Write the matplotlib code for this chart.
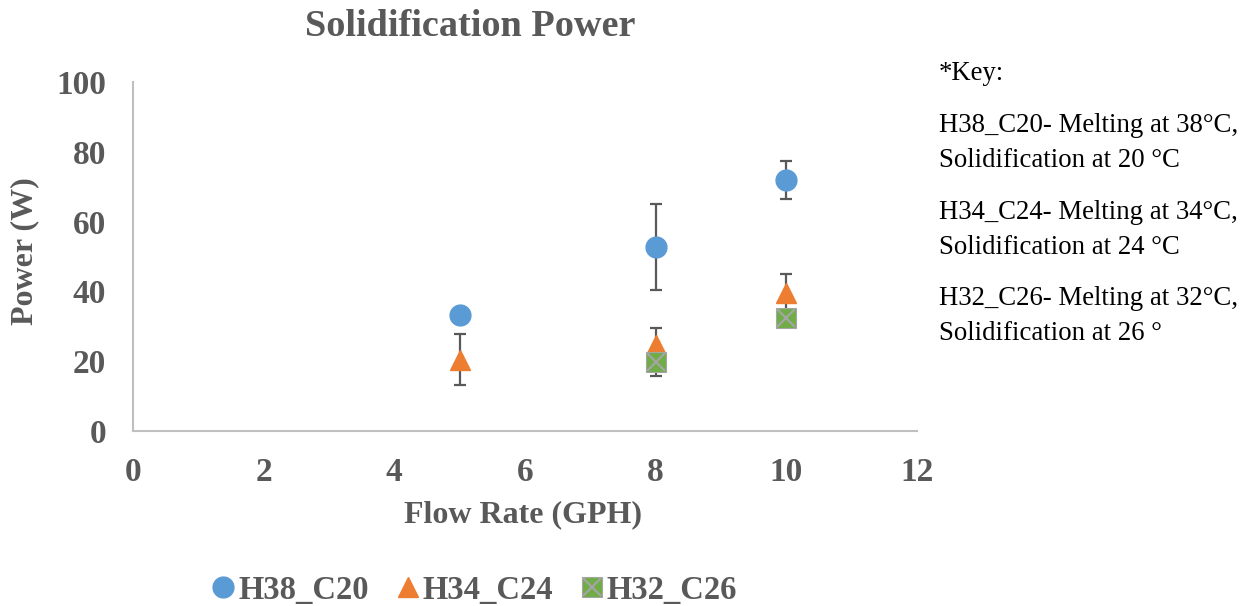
import numpy as np
import matplotlib
matplotlib.use("Agg")
from matplotlib import pyplot as plt
from matplotlib.legend_handler import HandlerTuple

# Data
flow_h38 = [5, 8, 10]
power_h38 = [33.2, 52.7, 71.9]
err_h38 = [0.0, 12.3, 5.5]

flow_h34 = [5, 8, 10]
power_h34 = [20.4, 24.5, 39.5]
err_h34 = [7.3, 5.0, 5.5]

flow_h32 = [8, 10]
power_h32 = [19.7, 32.3]
err_h32 = [3.9, 0.0]

key_lines = ["*Key:",
             "H38_C20- Melting at 38°C,\nSolidification at 20 °C",
             "H34_C24- Melting at 34°C,\nSolidification at 24 °C",
             "H32_C26- Melting at 32°C,\nSolidification at 26 °"]

plt.rcParams['font.family'] = ['Liberation Serif', 'DejaVu Serif']
grey = '#595959'

fig = plt.figure(figsize=(12.48, 6.06), dpi=100)
ax = fig.add_axes([0.1066, 0.2888, 0.628, 0.5759])

ekw = dict(fmt='none', ecolor=grey, elinewidth=1.6, capsize=4.3, capthick=1.6, zorder=2)
ax.errorbar(flow_h38, power_h38, yerr=err_h38, **ekw)
ax.errorbar(flow_h34, power_h34, yerr=err_h34, **ekw)
ax.errorbar(flow_h32, power_h32, yerr=err_h32, **ekw)

h1, = ax.plot(flow_h38, power_h38, 'o', ms=15, color='#5B9BD5', mec='#5B9BD5', zorder=3)
h2, = ax.plot(flow_h34, power_h34, '^', ms=15, color='#ED7D31', mec='#ED7D31', zorder=3)
h3a, = ax.plot(flow_h32, power_h32, 's', ms=14, color='#70AD47', mec='#A5A5A5', mew=0.8, zorder=3)
h3b, = ax.plot(flow_h32, power_h32, 'x', ms=13, color='#A5A5A5', mew=1.6, zorder=4)

ax.set_xlim(0, 12)
ax.set_ylim(0, 100)
ax.set_xticks(np.arange(0, 13, 2))
ax.set_yticks(np.arange(0, 101, 20))
for s in ['top', 'right']:
    ax.spines[s].set_visible(False)
for s in ['left', 'bottom']:
    ax.spines[s].set_color('#BFBFBF')
    ax.spines[s].set_linewidth(1.5)
ax.tick_params(length=0, labelsize=24, labelcolor=grey)
ax.tick_params(axis='x', pad=19)
ax.tick_params(axis='y', pad=19.5)
for lab in ax.get_xticklabels() + ax.get_yticklabels():
    lab.set_fontweight('bold')

fig.text(470 / 1248, 1 - 27 / 606, 'Solidification Power', fontsize=27.5, fontweight='bold',
         color=grey, ha='center', va='center')
fig.text(523 / 1248, 1 - 515 / 606, 'Flow Rate (GPH)', fontsize=23, fontweight='bold',
         color=grey, ha='center', va='center')
fig.text(25 / 1248, 1 - 251 / 606, 'Power (W)', fontsize=23, fontweight='bold',
         color=grey, ha='center', va='center', rotation=90)

leg = fig.legend([h1, h2, (h3a, h3b)], ['H38_C20', 'H34_C24', 'H32_C26'],
                 handler_map={tuple: HandlerTuple(ndivide=1, pad=0)},
                 loc='center', bbox_to_anchor=(0.381, 0.026), ncol=3, frameon=False,
                 prop={'size': 23.5, 'weight': 'bold'}, handlelength=0.6,
                 handletextpad=0.15, columnspacing=0.9)
for t in leg.get_texts():
    t.set_color(grey)

key_y = [73, 143, 230, 316]
for txt, yp in zip(key_lines, key_y):
    fig.text(939 / 1248, 1 - yp / 606, txt, fontsize=19.3, color='black',
             va='center', ha='left', linespacing=1.48)

fig.savefig('out.png', dpi=100)
